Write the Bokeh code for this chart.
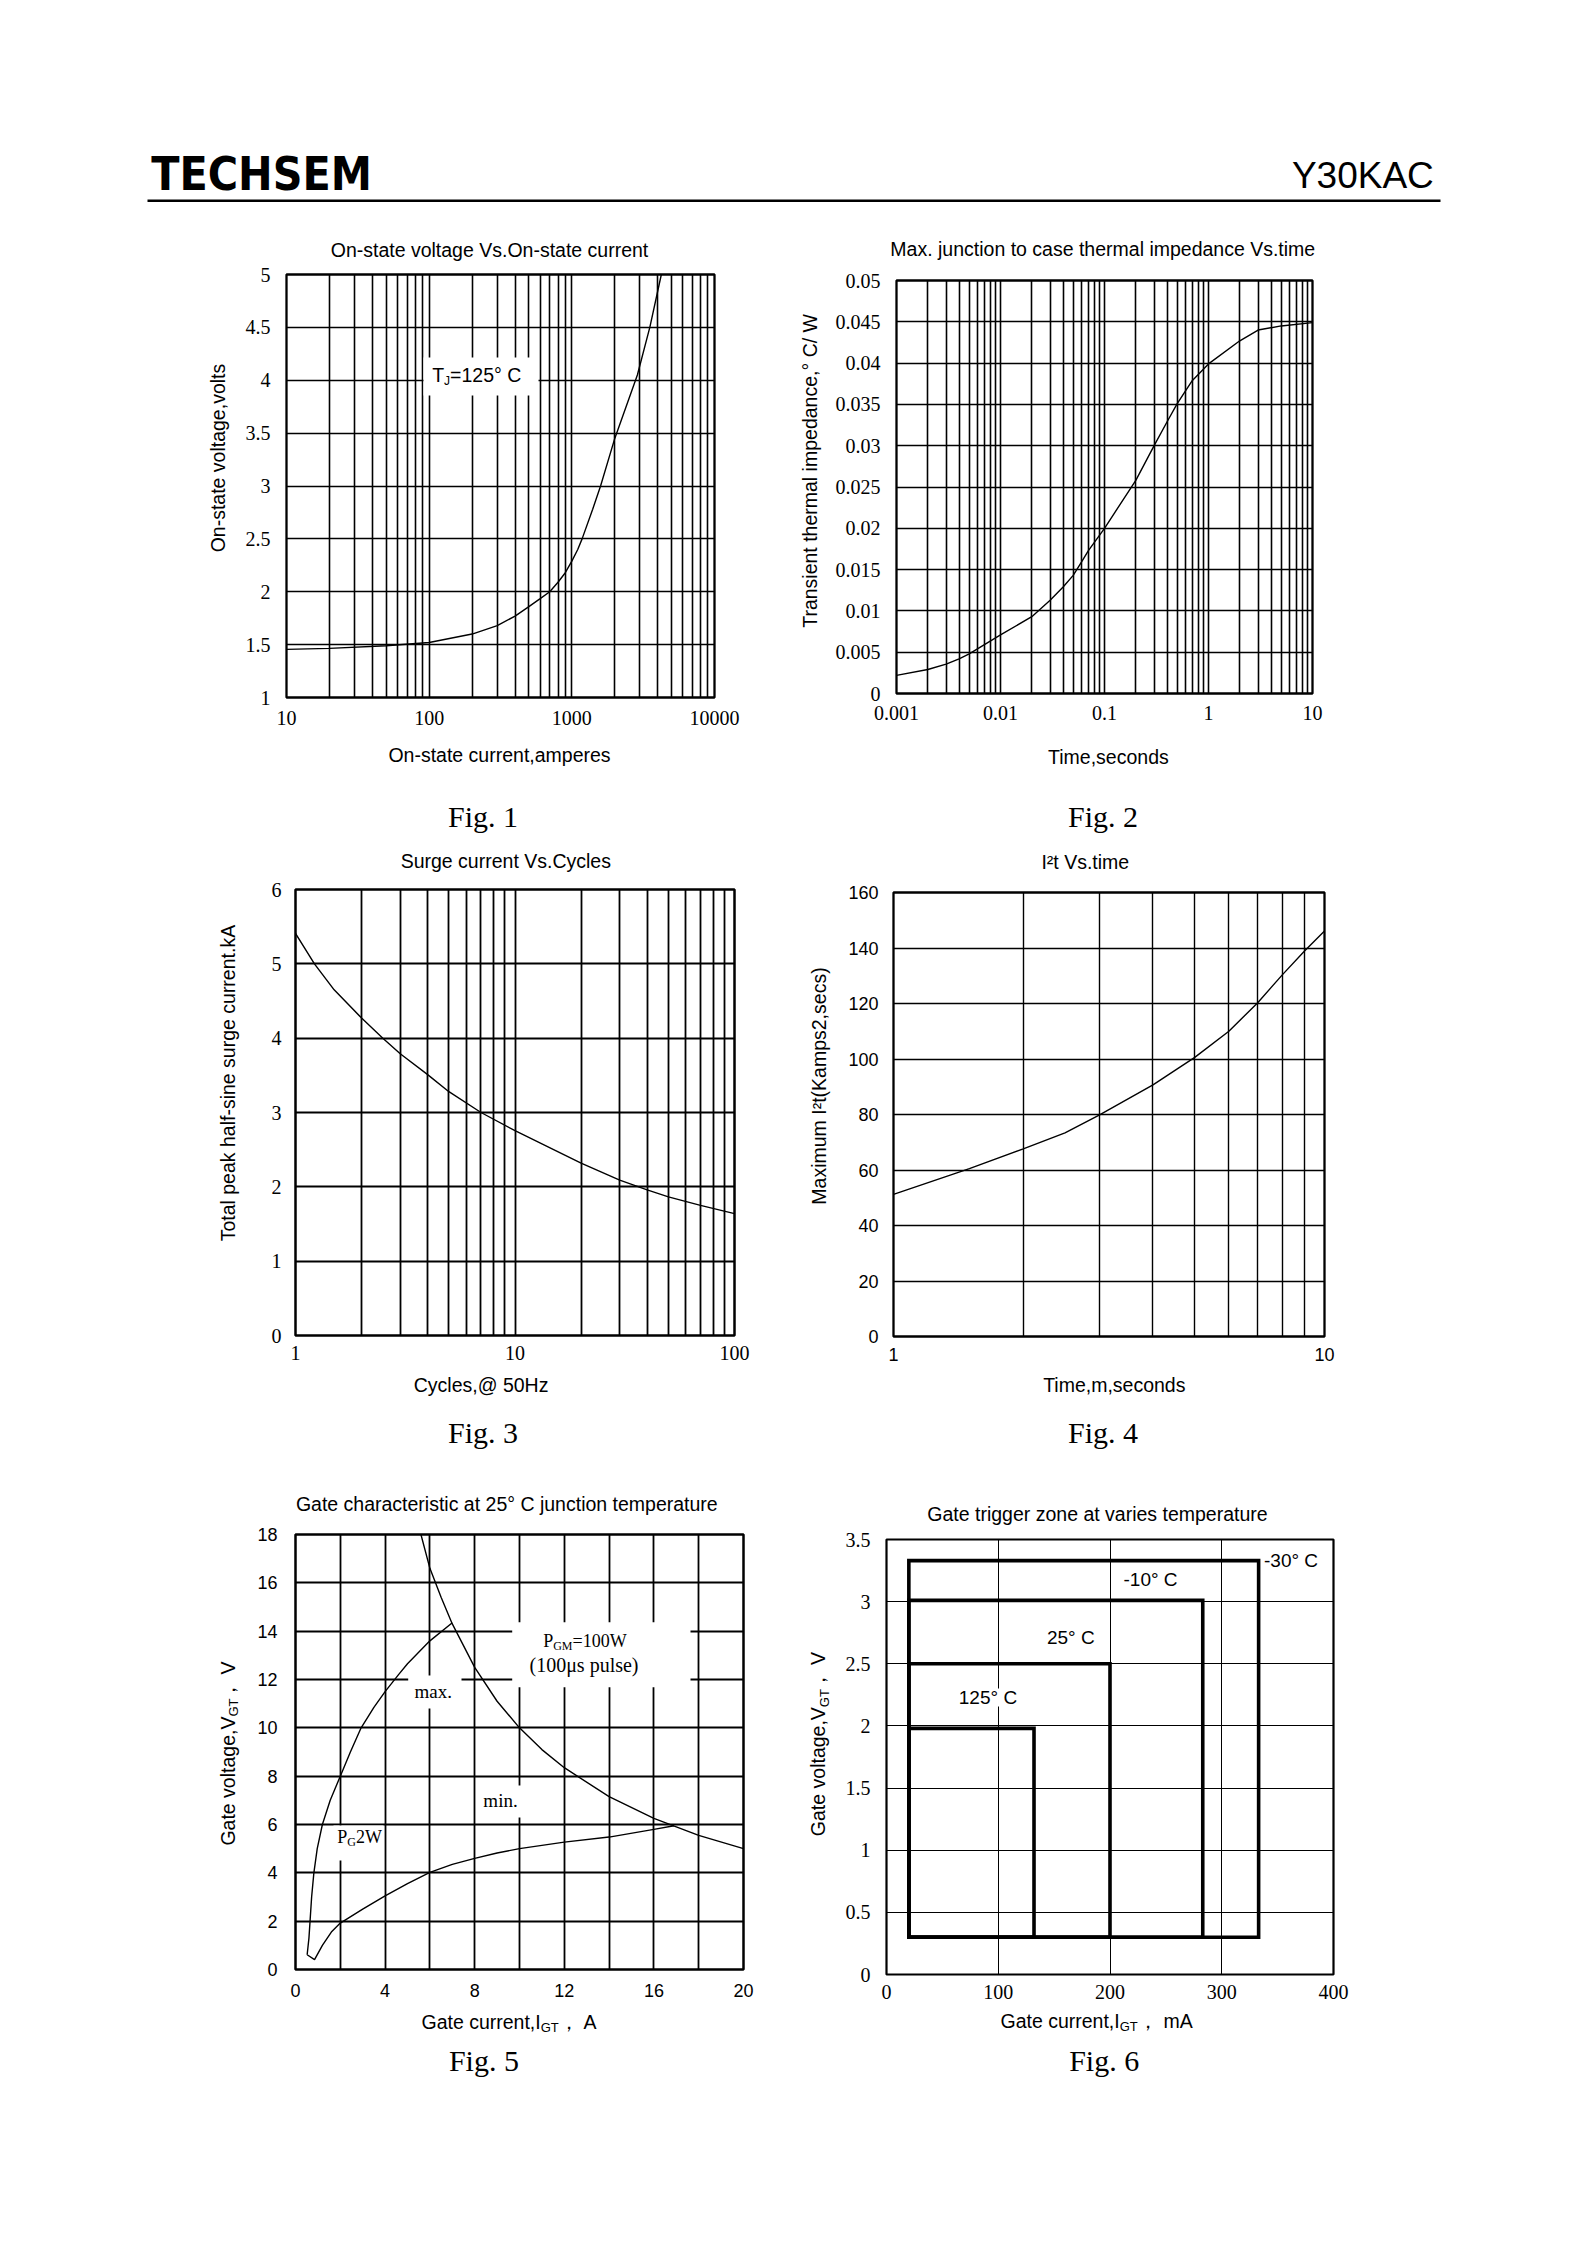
import math
from bokeh.plotting import figure
from bokeh.layouts import column, row
from bokeh.models import FixedTicker, CustomJSTickFormatter, Label, BoxAnnotation, Range1d
from bokeh.embed import file_html
from bokeh.resources import INLINE

# ======================= DATA =======================
header_left = "TECHSEM"
header_right = "Y30KAC"

# Fig.1  On-state voltage vs on-state current (Tj = 125 C)
fig1_current_A = [10, 20, 50, 100, 200, 300, 400, 500, 600, 700, 800, 900, 1000,
                  1100, 1180, 1400, 1590, 2000, 2400, 2880, 3520, 4240]
fig1_voltage_V = [1.455, 1.465, 1.49, 1.52, 1.6, 1.68, 1.77, 1.86, 1.935, 2.0, 2.09,
                  2.18, 2.29, 2.4, 2.5, 2.78, 3.0, 3.45, 3.75, 4.05, 4.5, 5.0]
fig1_xticks = [10, 100, 1000, 10000]
fig1_yticks = [1, 1.5, 2, 2.5, 3, 3.5, 4, 4.5, 5]
fig1_xgrid = [20, 30, 40, 50, 60, 70, 80, 90, 100, 200, 300, 400, 500, 600, 700, 800, 900,
              1000, 2000, 3000, 4000, 5000, 6000, 7000, 8000, 9000]

# Fig.2  Max junction-to-case thermal impedance vs time
fig2_time_s = [0.001, 0.002, 0.003, 0.004, 0.005, 0.01, 0.02, 0.03, 0.04, 0.05, 0.06, 0.07,
               0.1, 0.2, 0.3, 0.4, 0.5, 0.7, 1, 2, 3, 5, 10]
fig2_zth = [0.0022, 0.0029, 0.00355, 0.0042, 0.0048, 0.0071, 0.0093, 0.0113, 0.0129, 0.0143,
            0.0159, 0.0173, 0.0200, 0.0258, 0.0300, 0.0329, 0.0351, 0.0379, 0.0399, 0.0427,
            0.0440, 0.0445, 0.0449]
fig2_xticks = [0.001, 0.01, 0.1, 1, 10]
fig2_yticks = [0, 0.005, 0.01, 0.015, 0.02, 0.025, 0.03, 0.035, 0.04, 0.045, 0.05]
fig2_xgrid = [0.002, 0.003, 0.004, 0.005, 0.006, 0.007, 0.008, 0.009, 0.01,
              0.02, 0.03, 0.04, 0.05, 0.06, 0.07, 0.08, 0.09, 0.1,
              0.2, 0.3, 0.4, 0.5, 0.6, 0.7, 0.8, 0.9, 1,
              2, 3, 4, 5, 6, 7, 8, 9]

# Fig.3  Surge current vs cycles
fig3_cycles = [1, 1.22, 1.5, 2, 2.5, 3, 4, 5, 7, 10, 20, 30, 40, 50, 70, 100]
fig3_current_kA = [5.41, 5.0, 4.65, 4.27, 4.0, 3.79, 3.51, 3.28, 3.0, 2.755, 2.32,
                   2.09, 1.96, 1.865, 1.75, 1.64]
fig3_xticks = [1, 10, 100]
fig3_yticks = [0, 1, 2, 3, 4, 5, 6]
fig3_xgrid = [2, 3, 4, 5, 6, 7, 8, 9, 10, 20, 30, 40, 50, 60, 70, 80, 90]

# Fig.4  I2t vs time
fig4_time_ms = [1, 1.5, 2, 2.5, 3, 4, 5, 6, 7, 8, 9, 10]
fig4_i2t = [51.2, 60.5, 67.6, 73.4, 79.8, 90.7, 100.6, 110.0, 120.3, 130.5, 139.0, 146.1]
fig4_xticks = [1, 10]
fig4_yticks = [0, 20, 40, 60, 80, 100, 120, 140, 160]
fig4_xgrid = [2, 3, 4, 5, 6, 7, 8, 9]

# Fig.5  Gate characteristic at 25 C
fig5_max_I = [0.52, 0.6, 0.65, 0.72, 0.82, 0.97, 1.2, 1.55, 2.0, 2.45, 2.93, 3.5, 4.0, 4.6,
              5.0, 6.0, 7.0]
fig5_max_V = [0.61, 1.3, 2.0, 3.0, 4.0, 5.0, 6.0, 7.0, 8.0, 9.0, 10.0, 10.85, 11.5, 12.2,
              12.65, 13.6, 14.35]
fig5_min_I = [0.52, 0.85, 1.2, 1.6, 2.0, 3.0, 4.0, 5.0, 6.0, 7.0, 8.0, 9.0, 10.0, 12.0, 14.0,
              16.0, 16.9]
fig5_min_V = [0.61, 0.41, 1.0, 1.55, 1.92, 2.5, 3.05, 3.55, 4.02, 4.35, 4.6, 4.82, 5.0, 5.27,
              5.48, 5.8, 5.95]
fig5_pgm_I = [5.6, 6.0, 6.5, 7.0, 8.0, 9.0, 10.0, 11.0, 12.0, 14.0, 16.0, 17.0, 18.0, 20.0]
fig5_pgm_V = [18.0, 16.6, 15.4, 14.3, 12.5, 11.1, 10.0, 9.1, 8.35, 7.15, 6.25, 5.9, 5.55, 5.0]
fig5_xticks = [0, 4, 8, 12, 16, 20]
fig5_yticks = [0, 2, 4, 6, 8, 10, 12, 14, 16, 18]
fig5_xgrid = [0, 2, 4, 6, 8, 10, 12, 14, 16, 18, 20]
fig5_ygrid = [0, 2, 4, 6, 8, 10, 12, 14, 16, 18]

# Fig.6  Gate trigger zone at various temperatures
zone_temps = ["-30°  C", "-10°  C", "25°  C", "125°  C"]
zone_imin_mA = [20, 20, 20, 20]
zone_imax_mA = [333, 283, 200, 132]
zone_vmin_V = [0.3, 0.3, 0.3, 0.3]
zone_vmax_V = [3.33, 3.01, 2.5, 1.98]
fig6_xticks = [0, 100, 200, 300, 400]
fig6_yticks = [0, 0.5, 1, 1.5, 2, 2.5, 3, 3.5]

# ======================= STYLE / LAYOUT =======================
SANS = "Liberation Sans"
SERIF = "Liberation Serif"
BLACK = "#000000"
PAGE_W = 1584
ROT = math.pi / 2
LF, RT = "left", "right"


class Frame:
    """Plot frame in page pixel coordinates plus its data ranges."""

    def __init__(self, L, T, R, B, xr, yr, xlog=False, ylog=False):
        self.L, self.T, self.R, self.B = L, T, R, B
        self.xr, self.yr, self.xlog, self.ylog = xr, yr, xlog, ylog

    def dx(self, px):
        f = (px - self.L) / (self.R - self.L)
        if self.xlog:
            a, b = math.log10(self.xr[0]), math.log10(self.xr[1])
            return 10 ** (a + f * (b - a))
        return self.xr[0] + f * (self.xr[1] - self.xr[0])

    def dy(self, py):
        f = (self.B - py) / (self.B - self.T)
        if self.ylog:
            a, b = math.log10(self.yr[0]), math.log10(self.yr[1])
            return 10 ** (a + f * (b - a))
        return self.yr[0] + f * (self.yr[1] - self.yr[0])


def panel(x0, y0, x1, y1):
    """A plain text panel; its frame is the whole canvas, in page pixel coordinates."""
    f = figure(width=x1 - x0, height=y1 - y0, x_range=Range1d(x0, x1),
               y_range=Range1d(y1, y0), output_backend="svg", toolbar_location=None,
               tools="", min_border=0, x_axis_location=None, y_axis_location=None,
               background_fill_color="white", border_fill_color="white")
    f.outline_line_color = None
    f.grid.visible = False
    return f


def t(f, px, py, text, font=SANS, size=19.5, align="center", angle=0.0, style="normal"):
    f.add_layout(Label(x=px, y=py, text=text, text_font=font, text_font_size=f"{size}px",
                       text_align=align, text_baseline="middle", angle=angle,
                       text_color=BLACK, text_font_style=style))


def tf(p, fr, px, py, text, **kw):
    """Text inside a chart frame, placed at a page position."""
    t(p, fr.dx(px), fr.dy(py), text, **kw)


def chart(fr, cx0, cy0, cx1, cy1, outline_w):
    p = figure(width=cx1 - cx0, height=cy1 - cy0,
               x_axis_type="log" if fr.xlog else "linear",
               y_axis_type="log" if fr.ylog else "linear",
               x_range=Range1d(*fr.xr), y_range=Range1d(*fr.yr),
               output_backend="svg", toolbar_location=None, tools="",
               min_border_left=fr.L - cx0, min_border_right=cx1 - fr.R,
               min_border_top=fr.T - cy0, min_border_bottom=cy1 - fr.B,
               background_fill_color="white", border_fill_color="white")
    p.outline_line_color = BLACK
    p.outline_line_width = outline_w
    p.outline_line_alpha = 1.0
    return p


def style_axes(p, xticks, yticks, xgrid, ygrid, tick_font, tick_size, xs, ys, grid_w):
    p.xaxis[0].ticker = FixedTicker(ticks=xticks)
    p.yaxis[0].ticker = FixedTicker(ticks=yticks)
    for ax in (p.xaxis[0], p.yaxis[0]):
        ax.formatter = CustomJSTickFormatter(code="return tick.toString()")
        ax.axis_line_color = None
        ax.major_tick_line_color = None
        ax.minor_tick_line_color = None
        ax.major_tick_out = 0
        ax.major_tick_in = 0
        ax.minor_tick_out = 0
        ax.minor_tick_in = 0
        ax.major_label_text_font = tick_font
        ax.major_label_text_font_size = f"{tick_size}px"
        ax.major_label_text_color = BLACK
    p.xaxis[0].major_label_standoff = xs
    p.yaxis[0].major_label_standoff = ys
    p.xgrid[0].ticker = FixedTicker(ticks=xgrid)
    p.ygrid[0].ticker = FixedTicker(ticks=ygrid)
    for g in (p.xgrid[0], p.ygrid[0]):
        g.grid_line_color = BLACK
        g.grid_line_width = grid_w
        g.grid_line_alpha = 1.0


def mask(p, fr, x0, x1, y0, y1):
    p.add_layout(BoxAnnotation(left=fr.dx(x0), right=fr.dx(x1), top=fr.dy(y0),
                               bottom=fr.dy(y1), fill_color="white", fill_alpha=1.0,
                               line_color=None, level="underlay"))


def cell(fr, x0, y0, x1, y1, tick_left, tick_bottom, outline_w, top_margin=12):
    cy0, cy1, cx0 = fr.T - top_margin, fr.B + tick_bottom, fr.L - tick_left
    top = panel(x0, y0, x1, cy0)
    left = panel(x0, cy0, cx0, cy1)
    bottom = panel(x0, cy1, x1, y1)
    p = chart(fr, cx0, cy0, x1, cy1, outline_w)
    return top, left, p, bottom, column(top, row(left, p, spacing=0), bottom, spacing=0)


def sub_label_h(f, jx, cy, head, sub, tail, sub_w, sub_dy=6.4, size=19.5, sub_size=13):
    """Horizontal label with a subscript; pieces joined at jx."""
    t(f, jx, cy, head, size=size, align=RT)
    t(f, jx, cy + sub_dy, sub, size=sub_size, align=LF)
    t(f, jx + sub_w, cy, tail, size=size, align=LF)


def sub_label_v(f, cx, jy, head, sub, tail, sub_w, sub_dx=6.4, size=19.5, sub_size=13):
    """Vertical (bottom-to-top) label with a subscript; pieces joined at jy."""
    t(f, cx, jy, head, size=size, align=RT, angle=ROT)
    t(f, cx + sub_dx, jy, sub, size=sub_size, align=LF, angle=ROT)
    t(f, cx, jy - sub_w, tail, size=size, align=LF, angle=ROT)


# ---------------- header ----------------
hdr = panel(0, 0, PAGE_W, 225)
t(hdr, 150.7, 173.5, header_left, font="DejaVu Sans Condensed, Liberation Sans", size=46,
  align=LF, style="bold")
t(hdr, 1433.3, 175, header_right, size=37, align=RT)
hdr.add_layout(BoxAnnotation(left=147, right=1440, top=199, bottom=201.5, fill_color=BLACK,
                             fill_alpha=1.0, line_color=None))

# ---------------- Fig.1 ----------------
F1 = Frame(286, 274, 714, 697, (10, 10000), (1, 5), xlog=True)
top1, left1, p1, bot1, cell1 = cell(F1, 0, 225, 794, 840, 50, 42, 2.3)
style_axes(p1, fig1_xticks, fig1_yticks, fig1_xgrid, fig1_yticks, SERIF, 20, 13, 16, 1.6)
mask(p1, F1, 423, 538, 357, 395)
p1.line(fig1_current_A, fig1_voltage_V, line_color=BLACK, line_width=1.4)
t(top1, 491.7, 249.5, "On-state voltage  Vs.On-state current")
t(bot1, 499, 754.3, "On-state current,amperes")
t(left1, 217.7, 469, "On-state voltage,volts", angle=ROT)
t(bot1, 482.6, 816, "Fig. 1", font=SERIF, size=30)
tf(p1, F1, 443.6, 374, "T", align=RT)
tf(p1, F1, 443.6, 380, "J", size=12, align=LF)
tf(p1, F1, 449.6, 374, "=125°  C", align=LF)

# ---------------- Fig.2 ----------------
F2 = Frame(896, 280, 1312, 693, (0.001, 10), (0, 0.05), xlog=True)
top2, left2, p2, bot2, cell2 = cell(F2, 794, 225, PAGE_W, 840, 70, 44, 2.3)
style_axes(p2, fig2_xticks, fig2_yticks, fig2_xgrid, fig2_yticks, SERIF, 20, 12, 16, 1.6)
p2.line(fig2_time_s, fig2_zth, line_color=BLACK, line_width=1.4)
t(top2, 1107.7, 248.3, "Max. junction to case thermal  impedance  Vs.time")
t(bot2, 1107.9, 756.8, "Time,seconds")
t(left2, 809.6, 475, "Transient  thermal  impedance,°  C/ W", angle=ROT)
t(bot2, 1102.6, 816, "Fig. 2", font=SERIF, size=30)

# ---------------- Fig.3 ----------------
F3 = Frame(295, 889, 734, 1335, (1, 100), (0, 6), xlog=True)
top3, left3, p3, bot3, cell3 = cell(F3, 0, 840, 794, 1450, 45, 35, 2.5)
style_axes(p3, fig3_xticks, fig3_yticks, fig3_xgrid, fig3_yticks, SERIF, 20, 10, 14, 1.8)
p3.line(fig3_cycles, fig3_current_kA, line_color=BLACK, line_width=1.4)
t(top3, 508, 860.7, "Surge current  Vs.Cycles")
t(bot3, 480.6, 1384, "Cycles,@ 50Hz")
t(left3, 227, 1091, "Total peak half-sine surge current.kA", angle=ROT)
t(bot3, 482.6, 1432, "Fig. 3", font=SERIF, size=30)

# ---------------- Fig.4 ----------------
F4 = Frame(893, 892, 1324, 1336, (1, 10), (0, 160), xlog=True)
top4, left4, p4, bot4, cell4 = cell(F4, 794, 840, PAGE_W, 1450, 56, 35, 2.3)
style_axes(p4, fig4_xticks, fig4_yticks, fig4_xgrid, fig4_yticks, SANS, 18, 11, 15, 1.4)
p4.line(fig4_time_ms, fig4_i2t, line_color=BLACK, line_width=1.4)
t(top4, 1087.5, 861.4, "I²t  Vs.time")
t(bot4, 1113.8, 1384, "Time,m,seconds")
t(left4, 818.6, 1094, "Maximum I²t(Kamps2,secs)", angle=ROT)
t(bot4, 1102.6, 1432, "Fig. 4", font=SERIF, size=30)

# ---------------- Fig.5 ----------------
F5 = Frame(295, 1534, 743, 1969, (0, 20), (0, 18))
top5, left5, p5, bot5, cell5 = cell(F5, 0, 1450, 794, 2090, 48, 38, 2.5)
style_axes(p5, fig5_xticks, fig5_yticks, fig5_xgrid, fig5_ygrid, SANS, 18, 14, 18, 1.8)
mask(p5, F5, 407.7, 461, 1675, 1708)
mask(p5, F5, 511.7, 690, 1621.7, 1686.7)
mask(p5, F5, 480, 523, 1785, 1817)
mask(p5, F5, 333, 383, 1825, 1860)
p5.line(fig5_max_I, fig5_max_V, line_color=BLACK, line_width=1.4)
p5.line(fig5_min_I, fig5_min_V, line_color=BLACK, line_width=1.4)
p5.line(fig5_pgm_I, fig5_pgm_V, line_color=BLACK, line_width=1.4)
t(top5, 509, 1503.3, "Gate characteristic at 25°  C junction temperature")
sub_label_h(bot5, 540.2, 2021, "Gate current,I", "GT", "，  A", 18.5)
sub_label_v(left5, 227, 1725, "Gate voltage,V", "GT", "，  V", 18.5)
t(bot5, 483.4, 2060, "Fig. 5", font=SERIF, size=30)
tf(p5, F5, 432.7, 1690.7, "max.", font=SERIF, size=19)
tf(p5, F5, 552.7, 1640.4, "P", font=SERIF, size=18, align=RT)
tf(p5, F5, 552.7, 1645.8, "GM", font=SERIF, size=12, align=LF)
tf(p5, F5, 572, 1640.4, "=100W", font=SERIF, size=18, align=LF)
tf(p5, F5, 583.5, 1664.3, "(100μs pulse)", font=SERIF, size=20)
tf(p5, F5, 500, 1800, "min.", font=SERIF, size=19)
tf(p5, F5, 346.7, 1836.4, "P", font=SERIF, size=18, align=RT)
tf(p5, F5, 346.7, 1841.3, "G", font=SERIF, size=12, align=LF)
tf(p5, F5, 355.4, 1836.4, "2W", font=SERIF, size=18, align=LF)

# ---------------- Fig.6 ----------------
F6 = Frame(886, 1539, 1333, 1974, (0, 400), (0, 3.5))
top6, left6, p6, bot6, cell6 = cell(F6, 794, 1450, PAGE_W, 2090, 48, 33, 2.2)
style_axes(p6, fig6_xticks, fig6_yticks, fig6_xticks, fig6_yticks, SERIF, 20, 10, 16, 1.0)
mask(p6, F6, 955, 1022, 1688, 1706)
p6.quad(left=zone_imin_mA, right=zone_imax_mA, bottom=zone_vmin_V, top=zone_vmax_V,
        fill_color=None, line_color=BLACK, line_width=3.6, line_join="miter")
zone_label_pos = [(1263.5, 1560), (1123, 1579.2), (1046.4, 1636.6), (958.3, 1697)]
for lbl, (zx, zy) in zip(zone_temps, zone_label_pos):
    tf(p6, F6, zx, zy, lbl, size=19, align=LF)
t(top6, 1099.7, 1513.7, "Gate trigger zone at varies  temperature")
sub_label_h(bot6, 1119.2, 2020, "Gate current,I", "GT", "，  mA", 18.5)
sub_label_v(left6, 817.7, 1712, "Gate voltage,V", "GT", "，  V", 18.5)
t(bot6, 1103.7, 2060, "Fig. 6", font=SERIF, size=30)

page = column(hdr,
              row(cell1, cell2, spacing=0),
              row(cell3, cell4, spacing=0),
              row(cell5, cell6, spacing=0),
              spacing=0)
open("out.html", "w").write(file_html(page, INLINE, title="Y30KAC"))
